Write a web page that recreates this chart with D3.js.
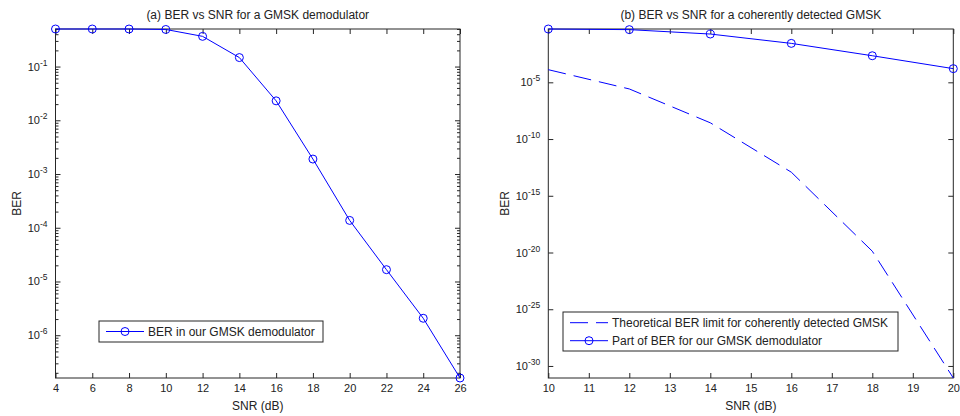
<!DOCTYPE html>
<html>
<head>
<meta charset="utf-8">
<script src="https://cdn.jsdelivr.net/npm/d3@7"></script>
<style>
  body { margin: 0; background: #fff; }
  svg text { font-family: "Liberation Sans", Arial, sans-serif; fill: #222; }
</style>
</head>
<body>
<svg width="960" height="416"></svg>
<script>
// (a) BER of our GMSK demodulator
const snrA = [4, 6, 8, 10, 12, 14, 16, 18, 20, 22, 24, 26];
const berA = [0.5, 0.5, 0.5, 0.49, 0.365, 0.147, 0.023, 1.9e-3, 1.37e-4, 1.66e-5, 2.07e-6, 1.6e-7];
const xTicksA = [4, 6, 8, 10, 12, 14, 16, 18, 20, 22, 24, 26];
const yExpA = [-1, -2, -3, -4, -5, -6];

// (b) coherently detected GMSK
const snrB = [10, 12, 14, 16, 18, 20];
const berTheory = [1.3e-4, 2.6e-6, 2.7e-9, 1.2e-13, 1.3e-20, 8.7e-32];
const berOurs = [0.5, 0.44, 0.18, 0.027, 2.2e-3, 1.6e-4];
const xTicksB = [10, 11, 12, 13, 14, 15, 16, 17, 18, 19, 20];
const yExpB = [-5, -10, -15, -20, -25, -30];

const svg = d3.select('svg');
const lineCol = '#0000ff';
const axCol = '#262626';

function drawPanel(o) {
  const w = o.x1 - o.x0, h = o.y1 - o.y0;
  const g = svg.append('g').attr('transform', `translate(${o.x0}, ${o.y0})`);

  const x = d3.scaleLinear().domain(o.xDomain).range([0, w]);
  const y = d3.scaleLog().domain(o.yDomain).range([h, 0]);

  const major = o.yExp.map(e => Math.pow(10, e));
  let minor = [];
  if (o.minor) {
    const lo = Math.floor(Math.log10(o.yDomain[0])), hi = Math.ceil(Math.log10(o.yDomain[1]));
    for (let e = lo; e < hi; e++) {
      for (let k = 2; k <= 9; k++) {
        const v = k * Math.pow(10, e);
        if (v >= o.yDomain[0] && v <= o.yDomain[1]) minor.push(v);
      }
    }
  }

  // axes, ticks pointing inward like matlab
  const axes = [
    g.append('g').call(d3.axisBottom(x).tickValues(o.xTicks).tickSize(-5).tickPadding(6))
      .attr('transform', `translate(0, ${h})`),
    g.append('g').call(d3.axisTop(x).tickValues(o.xTicks).tickSize(-5).tickFormat('')),
    g.append('g').call(d3.axisLeft(y).tickValues(major).tickSize(-5).tickFormat('')),
    g.append('g').call(d3.axisRight(y).tickValues(major).tickSize(-5).tickFormat(''))
      .attr('transform', `translate(${w}, 0)`),
    g.append('g').call(d3.axisLeft(y).tickValues(minor).tickSize(-3).tickFormat('')),
    g.append('g').call(d3.axisRight(y).tickValues(minor).tickSize(-3).tickFormat(''))
      .attr('transform', `translate(${w}, 0)`)
  ];
  axes.forEach(a => {
    a.select('.domain').remove();
    a.selectAll('line').attr('stroke', axCol);
    a.selectAll('text').style('font-size', '11px').attr('fill', '#222');
  });

  // y tick labels 10^e
  const lab = g.append('g').selectAll('text.ylab')
    .data(o.yExp)
    .enter()
    .append('text')
    .attr('class', 'ylab')
    .attr('x', -8)
    .attr('y', d => y(Math.pow(10, d)) + 4)
    .attr('text-anchor', 'end')
    .style('font-size', '11px');
  lab.append('tspan').text('10');
  lab.append('tspan').attr('dy', -5).style('font-size', '8.5px').text(d => d);

  g.append('rect')
    .attr('width', w).attr('height', h)
    .attr('fill', 'none').attr('stroke', axCol).attr('stroke-width', 1);

  // series
  o.series.forEach(s => {
    const pts = o.snr.map((v, i) => [v, s.values[i]]);
    g.append('path')
      .datum(pts)
      .attr('d', d3.line().x(d => x(d[0])).y(d => y(d[1])))
      .attr('fill', 'none')
      .attr('stroke', lineCol)
      .attr('stroke-width', 1)
      .attr('stroke-dasharray', s.dash ? '18,8' : null);
    if (s.marker) {
      g.selectAll(null)
        .data(pts)
        .enter()
        .append('circle')
        .attr('cx', d => x(d[0]))
        .attr('cy', d => y(d[1]))
        .attr('r', 4)
        .attr('fill', 'none')
        .attr('stroke', lineCol)
        .attr('stroke-width', 1);
    }
  });

  // title and axis labels
  g.append('text')
    .attr('x', w / 2).attr('y', -10)
    .attr('text-anchor', 'middle')
    .style('font-size', '12px')
    .text(o.title);
  g.append('text')
    .attr('x', w / 2).attr('y', h + 32)
    .attr('text-anchor', 'middle')
    .style('font-size', '12px')
    .text('SNR (dB)');
  g.append('text')
    .attr('transform', `translate(${o.yLabX - o.x0}, ${h / 2}) rotate(-90)`)
    .attr('text-anchor', 'middle')
    .attr('dy', '0.35em')
    .style('font-size', '12px')
    .text('BER');

  // legend
  const L = o.legend;
  const lg = svg.append('g').attr('transform', `translate(${L.x}, ${L.y})`);
  lg.append('rect')
    .attr('width', L.w).attr('height', L.h)
    .attr('fill', '#fff').attr('stroke', axCol).attr('stroke-width', 1);
  o.series.forEach((s, i) => {
    const ry = L.rowY[i];
    lg.append('line')
      .attr('x1', 7).attr('x2', 45).attr('y1', ry).attr('y2', ry)
      .attr('stroke', lineCol).attr('stroke-width', 1)
      .attr('stroke-dasharray', s.dash ? '18,8' : null);
    if (s.marker) {
      lg.append('circle')
        .attr('cx', 26).attr('cy', ry).attr('r', 4)
        .attr('fill', 'none').attr('stroke', lineCol);
    }
    lg.append('text')
      .attr('x', 49).attr('y', ry).attr('dy', '0.35em')
      .style('font-size', '12px')
      .text(s.name);
  });
}

drawPanel({
  x0: 55.5, x1: 460, y0: 29, y1: 378,
  xDomain: [4, 26], xTicks: xTicksA,
  yDomain: [1.6e-7, 0.5], yExp: yExpA, minor: true,
  snr: snrA,
  title: '(a) BER vs SNR for a GMSK demodulator',
  yLabX: 17,
  series: [{ name: 'BER in our GMSK demodulator', values: berA, marker: true, dash: false }],
  legend: { x: 99, y: 321, w: 224, h: 21, rowY: [10.5] }
});

drawPanel({
  x0: 548.3, x1: 953.3, y0: 29, y1: 378,
  xDomain: [10, 20], xTicks: xTicksB,
  yDomain: [8.7e-32, 0.5], yExp: yExpB, minor: false,
  snr: snrB,
  title: '(b) BER vs SNR for a coherently detected GMSK',
  yLabX: 505,
  series: [
    { name: 'Theoretical BER limit for coherently detected GMSK', values: berTheory, marker: false, dash: true },
    { name: 'Part of BER for our GMSK demodulator', values: berOurs, marker: true, dash: false }
  ],
  legend: { x: 563, y: 312, w: 335, h: 39, rowY: [10.7, 28.7] }
});
</script>
</body>
</html>
